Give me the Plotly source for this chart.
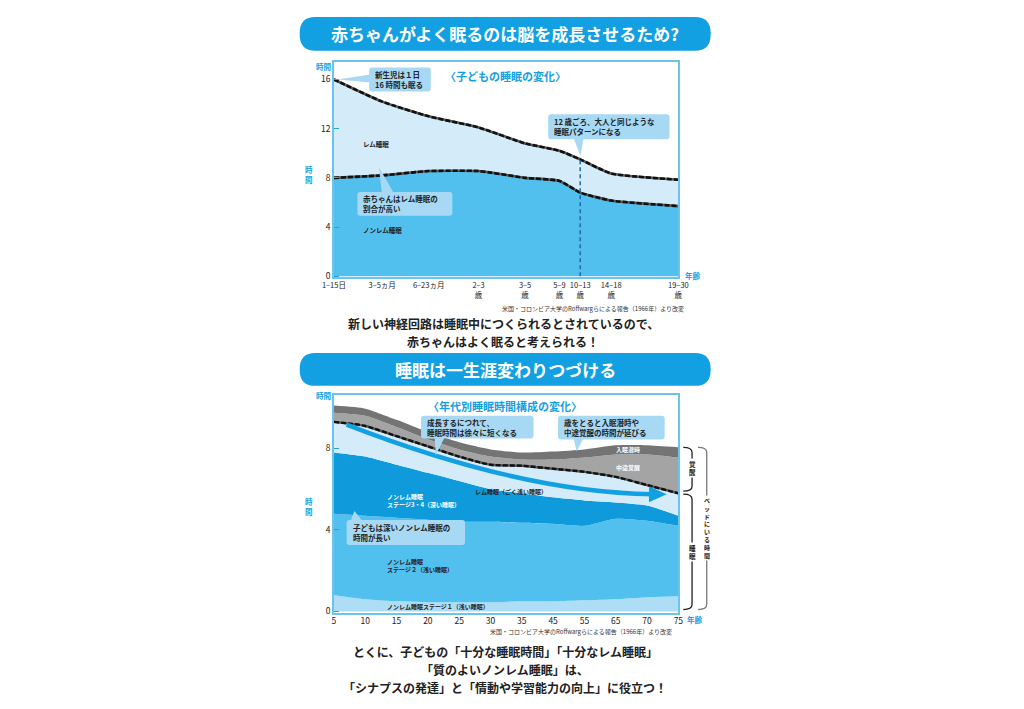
import numpy as np
import plotly.graph_objects as go

W, H = 1024, 709
FONT = "Noto Sans CJK JP"
BLUE = "#13A0E3"

# --- top chart: 子どもの睡眠の変化 (Roffwarg 1966) ---
child_ages = ["1–15日", "3–5ヵ月", "6–23ヵ月", "2–3<br>歳", "3–5<br>歳",
              "5–9<br>歳", "10–13<br>歳", "14–18<br>歳", "19–30<br>歳"]
child_pos = [0, 14, 27.5, 42, 55.5, 65.5, 71.5, 80.5, 100]
child_total = [16.0, 14.2, 13.0, 12.1, 10.8, 10.2, 9.5, 8.35, 7.85]
child_nonrem = [8.0, 8.2, 8.55, 8.55, 8.0, 7.75, 6.8, 6.15, 5.7]
child_yticks = [0, 4, 8, 12, 16]

# --- bottom chart: 年代別睡眠時間構成の変化 (hours per stage) ---
adult_ages = ["5", "10", "15", "20", "25", "30", "35", "45", "55", "65", "70", "75"]
stage1 = [0.8, 0.6, 0.5, 0.45, 0.45, 0.45, 0.5, 0.5, 0.55, 0.6, 0.7, 0.75]
stage2 = [4.0, 4.1, 4.1, 4.05, 3.95, 3.95, 3.85, 3.8, 3.65, 3.95, 3.75, 3.45]
stage34 = [3.0, 2.9, 2.6, 2.3, 2.0, 1.6, 1.45, 1.3, 1.25, 0.8, 0.75, 0.5]
rem = [1.5, 1.5, 1.4, 1.3, 1.2, 1.2, 1.35, 1.4, 1.4, 1.25, 1.0, 1.1]
waso = [0.45, 0.5, 0.45, 0.35, 0.35, 0.4, 0.3, 0.45, 0.7, 1.1, 1.5, 1.75]
latency = [0.35, 0.35, 0.35, 0.35, 0.35, 0.35, 0.35, 0.4, 0.4, 0.45, 0.45, 0.5]
adult_yticks = [0, 4, 8]

SOURCE = "米国・コロンビア大学のRoffwargらによる報告（1966年）より改変"


def px(x):
    return x / W


def py(y):
    return 1 - y / H


def to_path(cmds):
    out = []
    for c in cmds:
        if isinstance(c, str):
            out.append(c)
        else:
            out.append(f"{px(c[0]):.5f},{py(c[1]):.5f}")
    return " ".join(out)


def rbox(x0, y0, x1, y1, r):
    return to_path([
        "M", (x0 + r, y0), "L", (x1 - r, y0), "Q", (x1, y0), (x1, y0 + r),
        "L", (x1, y1 - r), "Q", (x1, y1), (x1 - r, y1),
        "L", (x0 + r, y1), "Q", (x0, y1), (x0, y1 - r),
        "L", (x0, y0 + r), "Q", (x0, y0), (x0 + r, y0), "Z",
    ])


def tri(a, b, c):
    return to_path(["M", a, "L", b, "L", c, "Z"])


def bracket(x, y0, y1, hook):
    return to_path([
        "M", (x - hook, y0), "Q", (x, y0), (x, y0 + 5),
        "L", (x, y1 - 5), "Q", (x, y1), (x - hook, y1),
    ])


fig = go.Figure()

# top chart areas
fig.add_trace(go.Scatter(
    x=child_pos, y=child_nonrem, mode="lines", fill="tozeroy",
    fillcolor="#52C0EF", line=dict(width=0, shape="spline", smoothing=0.5),
    xaxis="x", yaxis="y", hoverinfo="skip"
))
fig.add_trace(go.Scatter(
    x=child_pos, y=child_total, mode="lines", fill="tonexty",
    fillcolor="#D4ECFA", line=dict(width=0, shape="spline", smoothing=0.5),
    xaxis="x", yaxis="y", hoverinfo="skip"
))
for series in (child_nonrem, child_total):
    fig.add_trace(go.Scatter(
        x=child_pos, y=series, mode="lines",
        line=dict(width=2.6, color="#5a5a5a", shape="spline", smoothing=0.5),
        xaxis="x", yaxis="y", hoverinfo="skip"
    ))
    fig.add_trace(go.Scatter(
        x=child_pos, y=series, mode="lines",
        line=dict(width=2.6, color="#111", dash="5px,2px", shape="spline", smoothing=0.5),
        xaxis="x", yaxis="y", hoverinfo="skip"
    ))

# bottom chart stacked areas
layers = [
    (stage1, "#AEDDF6"),
    (stage2, "#52C0EF"),
    (stage34, "#0F9ADC"),
    (rem, "#D4ECFA"),
    (waso, "#A4A4A4"),
    (latency, "#747474"),
]
for values, color in layers:
    fig.add_trace(go.Scatter(
        x=adult_ages, y=values, mode="lines", stackgroup="sleep",
        fillcolor=color, line=dict(width=0, shape="spline", smoothing=0.6),
        xaxis="x2", yaxis="y2", hoverinfo="skip"
    ))

total_sleep = np.sum([stage1, stage2, stage34, rem], axis=0)
fig.add_trace(go.Scatter(
    x=adult_ages, y=total_sleep, mode="lines",
    line=dict(width=2.4, color="#5a5a5a", shape="spline", smoothing=0.6),
    xaxis="x2", yaxis="y2", hoverinfo="skip"
))
fig.add_trace(go.Scatter(
    x=adult_ages, y=total_sleep, mode="lines",
    line=dict(width=2.4, color="#111", dash="5px,2px", shape="spline", smoothing=0.6),
    xaxis="x2", yaxis="y2", hoverinfo="skip"
))

shapes = []
annotations = []


def note(x, y, text, size=8, color="#222", bold=False, xanchor="center",
         yanchor="middle", align="center", bg=None):
    if bold:
        text = "<b>" + text.replace("<br>", "</b><br><b>") + "</b>"
    annotations.append(dict(
        x=px(x), y=py(y), xref="paper", yref="paper", text=text,
        showarrow=False, xanchor=xanchor, yanchor=yanchor, align=align,
        font=dict(family=FONT, size=size, color=color),
        bgcolor=bg, borderpad=0
    ))


def callout(box, tail, lines, size=8):
    x0, y0, x1, y1 = box
    shapes.append(dict(type="path", xref="paper", yref="paper",
                       path=rbox(x0, y0, x1, y1, 3),
                       fillcolor="#A7D9F4", line=dict(width=0)))
    shapes.append(dict(type="path", xref="paper", yref="paper",
                       path=tri(*tail), fillcolor="#A7D9F4", line=dict(width=0)))
    note(x0 + 5, (y0 + y1) / 2, lines, size=size, bold=True,
         xanchor="left", align="left")


# banners
for y0, y1, title in [(17, 51, "赤ちゃんがよく眠るのは脳を成長させるため?"),
                      (355, 388, "睡眠は一生涯変わりつづける")]:
    shapes.append(dict(type="path", xref="paper", yref="paper",
                       path=rbox(294, y0, 714, y1, 16),
                       fillcolor=BLUE, line=dict(width=0)))
    note(504, (y0 + y1) / 2, title, size=17, color="white", bold=True)

# dashed 12-year line
shapes.append(dict(type="line", xref="x", yref="y",
                   x0=child_pos[6], x1=child_pos[6], y0=0, y1=child_total[6],
                   line=dict(color="#1f6aa5", width=1.5, dash="4px,3px")))

# top chart texts
note(504, 76, "〈子どもの睡眠の変化〉", size=11, color=BLUE, bold=True)
callout((365, 68, 428, 92), ((366, 75), (366, 83), (333, 80)),
        "新生児は１日<br>16 時間も眠る", size=7.5)
callout((548, 115, 672, 140), ((574, 139), (584, 139), (581, 157)),
        "12 歳ごろ、大人と同じような<br>睡眠パターンになる", size=7.5)
callout((353, 193, 450, 217), ((378, 194), (390, 194), (375, 168)),
        "赤ちゃんはレム睡眠の<br>割合が高い", size=7.5)
note(358, 145, "レム睡眠", size=6.5, bold=True, xanchor="left")
note(358, 231, "ノンレム睡眠", size=6.5, bold=True, xanchor="left")
note(318, 67, "時間", size=7.5, color=BLUE, bold=True)
note(304, 175, "時<br>間", size=7.5, color=BLUE, bold=True)
note(696, 277, "年齢", size=7.5, color=BLUE, bold=True)
note(688, 310, SOURCE, size=6, color="#333", xanchor="right")
note(502, 325, "新しい神経回路は睡眠中につくられるとされているので、", size=12, bold=True)
note(502, 343, "赤ちゃんはよく眠ると考えられる！", size=12, bold=True)

# bottom chart arrow
shapes.append(dict(type="path", xref="paper", yref="paper",
                   path=to_path(["M", (342, 427), "Q", (520, 495), (654, 497)]),
                   line=dict(color=BLUE, width=4.5)))
shapes.append(dict(type="path", xref="paper", yref="paper",
                   path=tri((651, 489), (651, 505), (669, 497)),
                   fillcolor=BLUE, line=dict(width=0)))

# bottom chart texts
note(504, 408, "〈年代別睡眠時間構成の変化〉", size=11, color=BLUE, bold=True)
callout((418, 418, 533, 441), ((432, 440), (442, 440), (433, 458)),
        "成長するにつれて、<br>睡眠時間は徐々に短くなる", size=7.5)
callout((558, 418, 667, 442), ((574, 441), (584, 441), (577, 454)),
        "歳をとると入眠潜時や<br>中途覚醒の時間が延びる", size=7.5)
callout((342, 523, 463, 548), ((346, 524), (358, 524), (350, 514)),
        "子どもは深いノンレム睡眠の<br>時間が長い", size=7.5)
note(630, 452, "入眠潜時", size=6, color="white", bold=True)
note(630, 470, "中途覚醒", size=6, color="white", bold=True)
note(472, 494, "レム睡眠（ごく浅い睡眠）", size=6, bold=True, xanchor="left")
note(382, 503, "ノンレム睡眠<br>ステージ3・4（深い睡眠）", size=6, color="white",
     bold=True, xanchor="left", align="left")
note(382, 569, "ノンレム睡眠<br>ステージ２（浅い睡眠）", size=6, bold=True,
     xanchor="left", align="left")
note(382, 610, "ノンレム睡眠ステージ１（浅い睡眠）", size=6, bold=True, xanchor="left")
note(318, 398, "時間", size=7.5, color=BLUE, bold=True)
note(304, 509, "時<br>間", size=7.5, color=BLUE, bold=True)
note(698, 623, "年齢", size=7.5, color=BLUE, bold=True)
note(676, 635, SOURCE, size=6, color="#333", xanchor="right")

# right-hand brackets
shapes.append(dict(type="path", xref="paper", yref="paper",
                   path=bracket(695, 450, 494, 9), line=dict(color="#222", width=1.3)))
shapes.append(dict(type="path", xref="paper", yref="paper",
                   path=bracket(695, 497, 613, 9), line=dict(color="#222", width=1.3)))
shapes.append(dict(type="path", xref="paper", yref="paper",
                   path=bracket(710, 450, 613, 9), line=dict(color="#777", width=1.3)))
note(695, 471, "覚<br>醒", size=6.5, bold=True, bg="white")
note(695, 555, "睡<br>眠", size=6.5, bold=True, bg="white")
note(710, 531, "<br>".join("ベッドにいる時間"), size=6, bold=True, bg="white")

# bottom message
note(504, 655, "とくに、子どもの「十分な睡眠時間」「十分なレム睡眠」", size=12, bold=True)
note(504, 673, "「質のよいノンレム睡眠」は、", size=12, bold=True)
note(504, 691, "「シナプスの発達」と「情動や学習能力の向上」に役立つ！", size=12, bold=True)

frame = dict(showline=True, mirror=True, linecolor="#6CC4EC", linewidth=1.5,
             showgrid=False, zeroline=False)

fig.update_layout(
    width=W, height=H, autosize=False,
    margin=dict(l=0, r=0, t=0, b=0),
    paper_bgcolor="white", plot_bgcolor="white",
    showlegend=False,
    font=dict(family=FONT, color="#222"),
    xaxis=dict(
        domain=[px(329), px(681)], range=[0, 100], anchor="y",
        tickvals=child_pos, ticktext=child_ages, ticks="",
        tickfont=dict(size=7.5, color="#222"), **frame
    ),
    yaxis=dict(
        domain=[py(279), py(62)], range=[-0.1, 17.45], anchor="x",
        tickvals=child_yticks, ticks="inside", ticklen=5, tickcolor="#2A9FDF",
        tickfont=dict(size=8.5, color="#222"), **frame
    ),
    xaxis2=dict(
        domain=[px(329), px(681)], type="category", range=[0, 11], anchor="y2",
        ticks="", tickfont=dict(size=8.5, color="#222"), **frame
    ),
    yaxis2=dict(
        domain=[py(616), py(397)], range=[-0.05, 10.63], anchor="x2",
        tickvals=adult_yticks, ticks="inside", ticklen=5, tickcolor="#2A9FDF",
        tickfont=dict(size=8.5, color="#222"), **frame
    ),
    shapes=shapes,
    annotations=annotations,
)

fig.write_html(
    "out.html",
    config={"displayModeBar": False},
    post_script="document.body.style.margin='0';document.body.style.overflow='hidden';"
)
